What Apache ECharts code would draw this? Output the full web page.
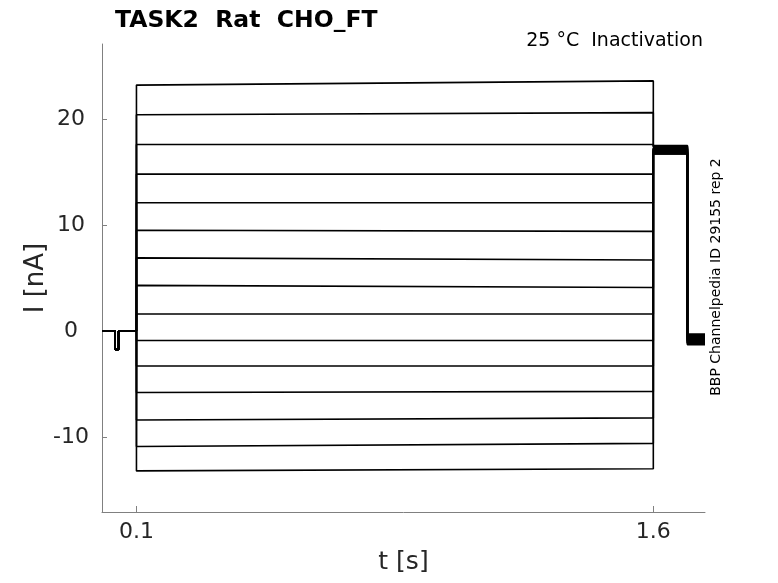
<!DOCTYPE html>
<html>
<head>
<meta charset="utf-8">
<script src="https://cdn.jsdelivr.net/npm/echarts@6/dist/echarts.min.js"></script>
<style>
  html, body { margin: 0; padding: 0; background: #fff; }
  #chart { width: 778px; height: 583px; }
</style>
</head>
<body>
<div id="chart"></div>
<script>
// sweep levels (nA)
var stepStart = [23.2, 20.4, 17.6, 14.8, 12.1, 9.5, 6.9, 4.3, 1.6, -0.9, -3.3, -5.8, -8.4, -10.9, -13.2];
var stepEnd = [23.6, 20.6, 17.6, 14.8, 12.1, 9.4, 6.7, 4.1, 1.6, -0.9, -3.3, -5.7, -8.2, -10.6, -13.0];
var testLevels = [17.5, 17.4, 17.4, 17.3, 17.2, 17.2, 17.1, 17.0, 17.0, 16.9, 16.9, 16.8, 16.8, 16.7, 16.7];
var finalLevels = [-0.3, -0.4, -0.4, -0.5, -0.6, -0.7, -0.7, -0.8, -0.9, -0.9, -1.0, -1.1, -1.1, -1.2, -1.3];

// protocol timing (s)
var protocolTimes = [0, 0.038, 0.048, 0.1, 1.6, 1.699, 1.75];
var dipLevel = -1.75;

var xTicks = [0.1, 1.6];
var yTicks = [-10, 0, 10, 20];

var font = 'DejaVu Sans';
var labelColor = '#262626';
var axisColor = '#808080';

function sweep(i) {
  var t = protocolTimes;
  return [
    [t[0], 0], [t[1], 0], [t[1], dipLevel], [t[2], dipLevel], [t[2], 0],
    [t[3], 0], [t[3], stepStart[i]], [t[4], stepEnd[i]],
    [t[4], testLevels[i]], [t[5], testLevels[i]],
    [t[5], finalLevels[i]], [t[6], finalLevels[i]]
  ];
}

var series = stepStart.map(function(v, i) {
  return {
    type: 'line',
    data: sweep(i),
    showSymbol: false,
    symbol: 'none',
    lineStyle: { color: '#000', width: 1.6 },
    z: 2
  };
});

var chart = echarts.init(document.getElementById('chart'), null, { renderer: 'canvas' });
chart.setOption({
  animation: false,
  title: {
    text: 'TASK2  Rat  CHO_FT',
    left: 110,
    top: 4,
    textStyle: { fontFamily: font, fontWeight: 'bold', fontSize: 23.5, color: '#000' }
  },
  grid: { left: 102, right: 73, top: 44, bottom: 71 },
  xAxis: {
    type: 'value',
    min: 0,
    max: 1.75,
    name: 't [s]',
    nameLocation: 'middle',
    nameGap: 38,
    nameTextStyle: { fontFamily: font, fontSize: 25, color: labelColor },
    axisLine: { onZero: false, lineStyle: { color: axisColor, width: 1 } },
    axisTick: { inside: true, length: 6, customValues: xTicks, lineStyle: { color: axisColor } },
    axisLabel: { customValues: xTicks, margin: 9, fontFamily: font, fontSize: 22, color: labelColor },
    splitLine: { show: false }
  },
  yAxis: {
    type: 'value',
    min: -17.08,
    max: 27.08,
    name: 'I [nA]',
    nameLocation: 'middle',
    nameGap: 53,
    nameMoveOverlap: false,
    nameTextStyle: { fontFamily: font, fontSize: 26, color: labelColor },
    axisLine: { show: true, onZero: false, lineStyle: { color: axisColor, width: 1 } },
    axisTick: { show: true, inside: true, length: 5, customValues: yTicks, lineStyle: { color: axisColor } },
    axisLabel: { customValues: yTicks, align: 'center', margin: 31, fontFamily: font, fontSize: 22, color: labelColor },
    splitLine: { show: false }
  },
  graphic: [
    {
      type: 'text',
      right: 75,
      top: 32,
      style: { text: '25 \u00b0C  Inactivation', font: '19px "DejaVu Sans"', fill: '#000' }
    },
    {
      type: 'text',
      x: 716,
      y: 277,
      rotation: Math.PI / 2,
      style: {
        text: 'BBP Channelpedia ID 29155 rep 2',
        font: '14px "DejaVu Sans"',
        fill: '#000',
        align: 'center',
        verticalAlign: 'middle'
      }
    }
  ],
  series: series
});
</script>
</body>
</html>
